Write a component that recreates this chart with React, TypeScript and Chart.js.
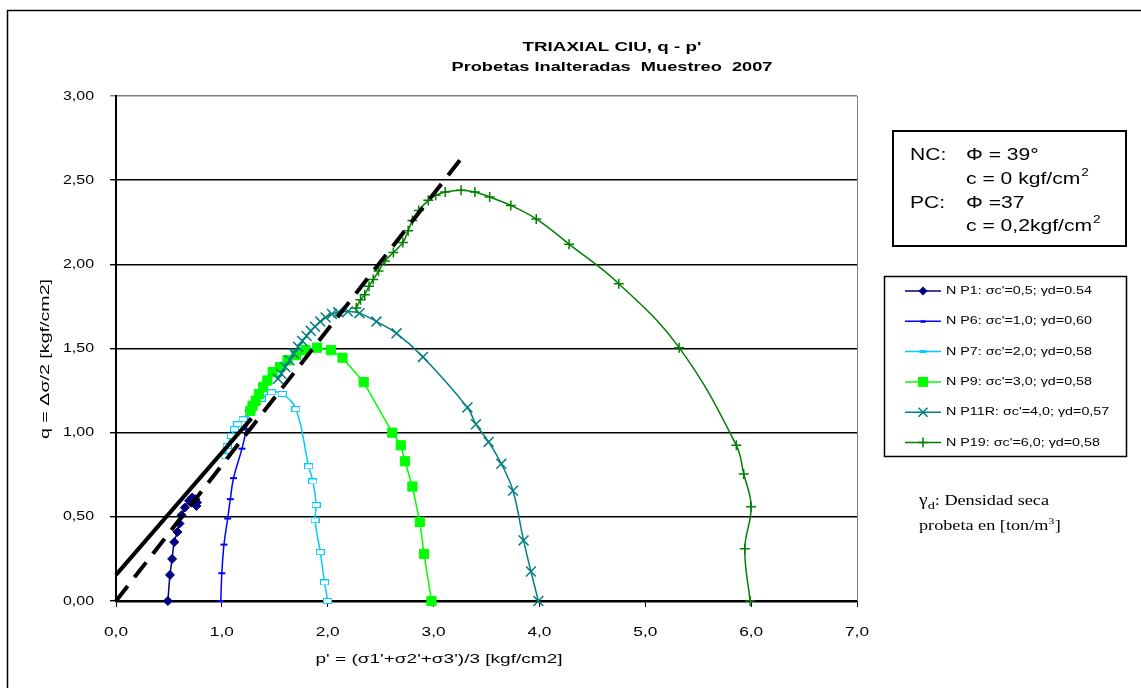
import React, { useEffect, useRef } from "react";
import { Chart, registerables } from "chart.js";

Chart.register(...registerables);

// ---- Stress paths: p' (x) and q (y), kgf/cm2 ----
const np1P = [0.49, 0.51, 0.53, 0.55, 0.58, 0.6, 0.62, 0.65, 0.69, 0.72, 0.75, 0.765, 0.76];
const np1Q = [0.0, 0.155, 0.25, 0.35, 0.41, 0.46, 0.51, 0.555, 0.595, 0.615, 0.605, 0.585, 0.565];

const np6P = [0.99, 1.0, 1.02, 1.055, 1.08, 1.11, 1.19, 1.23, 1.25];
const np6Q = [0.0, 0.165, 0.335, 0.49, 0.605, 0.73, 0.905, 1.02, 1.13];

const np7P = [2.0, 1.97, 1.93, 1.88, 1.89, 1.86, 1.82, 1.7, 1.57, 1.47, 1.37, 1.28, 1.2, 1.15, 1.12, 1.09, 1.05, 1.03];
const np7Q = [0.0, 0.11, 0.29, 0.48, 0.57, 0.71, 0.8, 1.14, 1.23, 1.24, 1.2, 1.14, 1.08, 1.05, 1.02, 0.98, 0.92, 0.86];

const np9P = [2.98, 2.91, 2.87, 2.8, 2.73, 2.69, 2.61, 2.34, 2.14, 2.03, 1.9, 1.79, 1.7, 1.62, 1.55, 1.48, 1.43, 1.39, 1.35, 1.32, 1.29, 1.27];
const np9Q = [0.0, 0.28, 0.47, 0.68, 0.83, 0.925, 1.0, 1.3, 1.445, 1.49, 1.505, 1.49, 1.46, 1.43, 1.39, 1.36, 1.31, 1.27, 1.23, 1.19, 1.16, 1.13];

const np11rP = [3.99, 3.92, 3.85, 3.75, 3.64, 3.52, 3.4, 3.32, 2.9, 2.65, 2.46, 2.3, 2.19, 2.1, 2.04, 1.98, 1.93, 1.88, 1.84, 1.8, 1.76, 1.72, 1.68, 1.64, 1.6, 1.56, 1.53];
const np11rQ = [0.0, 0.175, 0.36, 0.655, 0.815, 0.945, 1.05, 1.15, 1.45, 1.59, 1.66, 1.71, 1.72, 1.715, 1.705, 1.685, 1.66, 1.63, 1.605, 1.575, 1.545, 1.51, 1.47, 1.43, 1.39, 1.35, 1.32];

const np19P = [5.99, 5.94, 6.0, 5.93, 5.86, 5.32, 4.75, 4.28, 3.97, 3.73, 3.53, 3.39, 3.26, 3.11, 3.02, 2.95, 2.86, 2.8, 2.76, 2.71, 2.62, 2.54, 2.48, 2.43, 2.39, 2.35, 2.31, 2.27];
const np19Q = [0.0, 0.31, 0.56, 0.755, 0.925, 1.505, 1.885, 2.12, 2.27, 2.35, 2.4, 2.43, 2.44, 2.43, 2.41, 2.38, 2.32, 2.26, 2.2, 2.13, 2.07, 2.02, 1.96, 1.91, 1.87, 1.82, 1.79, 1.74];

// Failure envelopes (NC dashed, PC solid)
const envelopeNcP = [0, 3.25];
const envelopeNcQ = [0, 2.62];
const envelopePcP = [0, 1.28];
const envelopePcQ = [0.155, 1.085];

const seriesLabels = [
  "N P1: σc'=0,5; γd=0.54",
  "N P6: σc'=1,0; γd=0,60",
  "N P7: σc'=2,0; γd=0,58",
  "N P9: σc'=3,0; γd=0,58",
  "N P11R: σc'=4,0; γd=0,57",
  "N P19: σc'=6,0; γd=0,58",
];

const xTickValues = [0, 1, 2, 3, 4, 5, 6, 7];
const xTickLabels = ["0,0", "1,0", "2,0", "3,0", "4,0", "5,0", "6,0", "7,0"];
const yTickValues = [0, 0.5, 1, 1.5, 2, 2.5, 3];
const yTickLabels = ["0,00", "0,50", "1,00", "1,50", "2,00", "2,50", "3,00"];

const titleLines = ["TRIAXIAL CIU, q - p'", "Probetas Inalteradas  Muestreo  2007"];
const xTitle = "p' = (σ1'+σ2'+σ3')/3 [kgf/cm2]";
const yTitle = "q = Δσ/2 [kgf/cm2]";

const SANS = "'Liberation Sans', Arial, Helvetica, sans-serif";
const SERIF = "'Liberation Serif', 'Times New Roman', serif";

const pts = (p: number[], q: number[]) => p.map((x, i) => ({ x, y: q[i] }));

type TextOpts = {
  font: string;
  align?: CanvasTextAlign;
  baseline?: CanvasTextBaseline;
  sx?: number;
  width?: number;
  rotate?: number;
  color?: string;
};

function drawText(ctx: CanvasRenderingContext2D, s: string, x: number, y: number, o: TextOpts): number {
  ctx.save();
  ctx.font = o.font;
  ctx.textAlign = o.align ?? "left";
  ctx.textBaseline = o.baseline ?? "alphabetic";
  ctx.fillStyle = o.color ?? "#000";
  const natural = ctx.measureText(s).width;
  const sx = o.width ? o.width / natural : o.sx ?? 1;
  ctx.translate(x, y);
  if (o.rotate) ctx.rotate(o.rotate);
  ctx.scale(sx, 1);
  ctx.fillText(s, 0, 0);
  ctx.restore();
  return natural * sx;
}

function stretchFor(ctx: CanvasRenderingContext2D, font: string, s: string, width: number): number {
  ctx.save();
  ctx.font = font;
  const w = ctx.measureText(s).width;
  ctx.restore();
  return width / w;
}

type MarkerKind = "diamond" | "dash" | "openDash" | "square" | "xcross" | "plus";

function drawMarker(ctx: CanvasRenderingContext2D, kind: MarkerKind, x: number, y: number, color: string) {
  ctx.save();
  ctx.fillStyle = color;
  ctx.strokeStyle = color;
  ctx.lineWidth = 1.5;
  ctx.beginPath();
  switch (kind) {
    case "diamond":
      ctx.moveTo(x, y - 4.5);
      ctx.lineTo(x + 4.5, y);
      ctx.lineTo(x, y + 4.5);
      ctx.lineTo(x - 4.5, y);
      ctx.closePath();
      ctx.fill();
      break;
    case "dash":
      ctx.fillRect(x - 2.5, y - 1, 5, 2.5);
      break;
    case "openDash":
      ctx.fillRect(x - 3.5, y - 1.5, 7, 3);
      break;
    case "square":
      ctx.fillRect(x - 5, y - 5, 10, 10);
      break;
    case "xcross":
      ctx.moveTo(x - 4.5, y - 4.5);
      ctx.lineTo(x + 4.5, y + 4.5);
      ctx.moveTo(x + 4.5, y - 4.5);
      ctx.lineTo(x - 4.5, y + 4.5);
      ctx.stroke();
      break;
    case "plus":
      ctx.moveTo(x - 5, y);
      ctx.lineTo(x + 5, y);
      ctx.moveTo(x, y - 5);
      ctx.lineTo(x, y + 5);
      ctx.stroke();
      break;
  }
  ctx.restore();
}

const legendMarkers: MarkerKind[] = ["diamond", "dash", "openDash", "square", "xcross", "plus"];
const seriesColors = ["#000080", "#0000FF", "#00CCFF", "#00FF00", "#008080", "#008000"];

const decorPlugin = {
  id: "decor",
  beforeDraw(chart: any) {
    const ctx: CanvasRenderingContext2D = chart.ctx;
    ctx.save();
    ctx.fillStyle = "#fff";
    ctx.fillRect(0, 0, chart.width, chart.height);
    // outer frame
    ctx.strokeStyle = "#000";
    ctx.lineWidth = 1.5;
    ctx.strokeRect(7.5, 10.5, 1400, 900);
    ctx.restore();
  },
  afterDraw(chart: any) {
    const ctx: CanvasRenderingContext2D = chart.ctx;
    const area = chart.chartArea;
    const xs = chart.scales.x;
    const ys = chart.scales.y;

    // right edge of plot area
    ctx.save();
    ctx.strokeStyle = "#808080";
    ctx.lineWidth = 1;
    ctx.beginPath();
    ctx.moveTo(Math.round(area.right) + 0.5, area.top);
    ctx.lineTo(Math.round(area.right) + 0.5, area.bottom);
    ctx.stroke();
    ctx.restore();

    // titles
    drawText(ctx, titleLines[0], 612, 51, { font: `bold 13.5px ${SANS}`, align: "center", width: 179 });
    drawText(ctx, titleLines[1], 612, 71, { font: `bold 13.5px ${SANS}`, align: "center", width: 321 });

    // tick labels
    const tickFont = `13px ${SANS}`;
    const ySx = stretchFor(ctx, tickFont, "0,00", 31);
    yTickValues.forEach((v, i) => {
      drawText(ctx, yTickLabels[i], 94, ys.getPixelForValue(v), { font: tickFont, align: "right", baseline: "middle", sx: ySx });
    });
    const xSx = stretchFor(ctx, tickFont, "0,0", 24);
    xTickValues.forEach((v, i) => {
      drawText(ctx, xTickLabels[i], xs.getPixelForValue(v), 632, { font: tickFont, align: "center", baseline: "middle", sx: xSx });
    });

    // axis titles
    drawText(ctx, xTitle, 439, 660, { font: `12.5px ${SANS}`, align: "center", baseline: "middle", width: 247 });
    drawText(ctx, yTitle, 46, 359, { font: `12.5px ${SANS}`, align: "center", baseline: "middle", width: 160, rotate: -Math.PI / 2 });

    // strength parameters box
    ctx.save();
    ctx.strokeStyle = "#000";
    ctx.lineWidth = 2;
    ctx.strokeRect(893, 131, 233, 115);
    ctx.restore();
    const boxFont = `17px ${SANS}`;
    const supFont = `11px ${SANS}`;
    const bSx = stretchFor(ctx, boxFont, "c = 0,2kgf/cm", 126);
    drawText(ctx, "NC:", 910, 160, { font: boxFont, sx: bSx });
    drawText(ctx, "Φ = 39°", 966, 160, { font: boxFont, sx: bSx });
    let w = drawText(ctx, "c = 0 kgf/cm", 966, 184, { font: boxFont, sx: bSx });
    drawText(ctx, "2", 966 + w + 1, 176, { font: supFont, sx: bSx });
    drawText(ctx, "PC:", 910, 208, { font: boxFont, sx: bSx });
    drawText(ctx, "Φ =37", 966, 208, { font: boxFont, sx: bSx });
    w = drawText(ctx, "c = 0,2kgf/cm", 966, 231, { font: boxFont, sx: bSx });
    drawText(ctx, "2", 966 + w + 1, 223, { font: supFont, sx: bSx });

    // legend
    ctx.save();
    ctx.strokeStyle = "#000";
    ctx.lineWidth = 1.5;
    ctx.strokeRect(884.5, 276.5, 242, 180);
    ctx.restore();
    const legFont = `11px ${SANS}`;
    const lSx = stretchFor(ctx, legFont, seriesLabels[0], 146);
    seriesLabels.forEach((label, i) => {
      const y = 291 + i * 30.3;
      ctx.save();
      ctx.strokeStyle = seriesColors[i];
      ctx.lineWidth = 1.5;
      ctx.beginPath();
      ctx.moveTo(905, y);
      ctx.lineTo(941, y);
      ctx.stroke();
      ctx.restore();
      drawMarker(ctx, legendMarkers[i], 923, y, seriesColors[i]);
      drawText(ctx, label, 946, y, { font: legFont, baseline: "middle", sx: lSx });
    });

    // dry density note
    const nSx = 1.3;
    let x = 919;
    x += drawText(ctx, "γ", x, 505, { font: `17px ${SERIF}`, sx: 1.15 });
    x += drawText(ctx, "d", x, 509, { font: `11px ${SERIF}`, sx: nSx });
    drawText(ctx, ": Densidad seca", x, 505, { font: `14px ${SERIF}`, sx: nSx });
    let x2 = 919;
    x2 += drawText(ctx, "probeta en [ton/m", x2, 530, { font: `14px ${SERIF}`, sx: nSx });
    x2 += drawText(ctx, "3", x2, 524, { font: `9px ${SERIF}`, sx: nSx });
    drawText(ctx, "]", x2 + 0.5, 530, { font: `14px ${SERIF}`, sx: nSx });
  },
};

export default function App() {
  const ref = useRef<HTMLCanvasElement>(null);

  useEffect(() => {
    const canvas = ref.current;
    if (!canvas) return;

    // hollow dash marker for N P7
    const np7Marker = document.createElement("canvas");
    np7Marker.width = 9;
    np7Marker.height = 6;
    const mctx = np7Marker.getContext("2d")!;
    mctx.fillStyle = "#fff";
    mctx.fillRect(0, 0, 9, 6);
    mctx.strokeStyle = "#00CCFF";
    mctx.lineWidth = 1;
    mctx.strokeRect(0.5, 0.5, 8, 5);

    const series = [
      { p: np1P, q: np1Q, pointStyle: "rectRot", radius: 4.5, pbw: 1, tension: 0.4 },
      { p: np6P, q: np6Q, pointStyle: "line", radius: 3.5, pbw: 2, tension: 0.4 },
      { p: np7P, q: np7Q, pointStyle: np7Marker, radius: 4, pbw: 1, tension: 0.4 },
      { p: np9P, q: np9Q, pointStyle: "rect", radius: 6.5, pbw: 1, tension: 0 },
      { p: np11rP, q: np11rQ, pointStyle: "crossRot", radius: 7, pbw: 1.5, tension: 0.4 },
      { p: np19P, q: np19Q, pointStyle: "cross", radius: 5, pbw: 1.5, tension: 0.4 },
    ];

    const datasets: any[] = series.map((s, i) => ({
      label: seriesLabels[i],
      data: pts(s.p, s.q),
      showLine: true,
      borderColor: seriesColors[i],
      backgroundColor: seriesColors[i],
      borderWidth: 1.5,
      pointStyle: s.pointStyle,
      pointRadius: s.radius,
      pointBorderWidth: s.pbw,
      pointBackgroundColor: seriesColors[i],
      pointBorderColor: seriesColors[i],
      tension: s.tension,
      clip: false,
      order: 6 - i,
    }));

    datasets.push(
      {
        label: "NC",
        data: pts(envelopeNcP, envelopeNcQ),
        showLine: true,
        borderColor: "#000",
        borderWidth: 4,
        borderDash: [19, 11],
        pointRadius: 0,
        clip: false,
        order: 0,
      },
      {
        label: "PC",
        data: pts(envelopePcP, envelopePcQ),
        showLine: true,
        borderColor: "#000",
        borderWidth: 4,
        pointRadius: 0,
        clip: false,
        order: 0,
      }
    );

    const chart = new Chart(canvas, {
      type: "scatter",
      data: { datasets },
      options: {
        responsive: false,
        maintainAspectRatio: false,
        animation: false,
        events: [],
        layout: { padding: { left: 110, right: 284, top: 96, bottom: 81 } },
        plugins: {
          legend: { display: false },
          title: { display: false },
          tooltip: { enabled: false },
        },
        scales: {
          x: {
            type: "linear",
            min: 0,
            max: 7,
            afterBuildTicks: (s: any) => {
              s.ticks = xTickValues.map((v) => ({ value: v }));
            },
            ticks: { display: false },
            grid: { drawOnChartArea: false, drawTicks: true, tickLength: 6, color: "#000", lineWidth: 1 },
            border: { display: true, color: "#000", width: 2.5 },
          },
          y: {
            type: "linear",
            min: 0,
            max: 3,
            afterBuildTicks: (s: any) => {
              s.ticks = yTickValues.map((v) => ({ value: v }));
            },
            ticks: { display: false },
            grid: {
              drawTicks: true,
              tickLength: 6,
              lineWidth: 1.4,
              color: (c: any) => (c.tick && c.tick.value === 3 ? "#808080" : "#000"),
            },
            border: { display: true, color: "#000", width: 2 },
          },
        },
      } as any,
      plugins: [decorPlugin],
    });

    return () => chart.destroy();
  }, []);

  return (
    <canvas
      ref={ref}
      width={1141}
      height={688}
      style={{ position: "fixed", left: 0, top: 0, width: 1141, height: 688 }}
    />
  );
}
